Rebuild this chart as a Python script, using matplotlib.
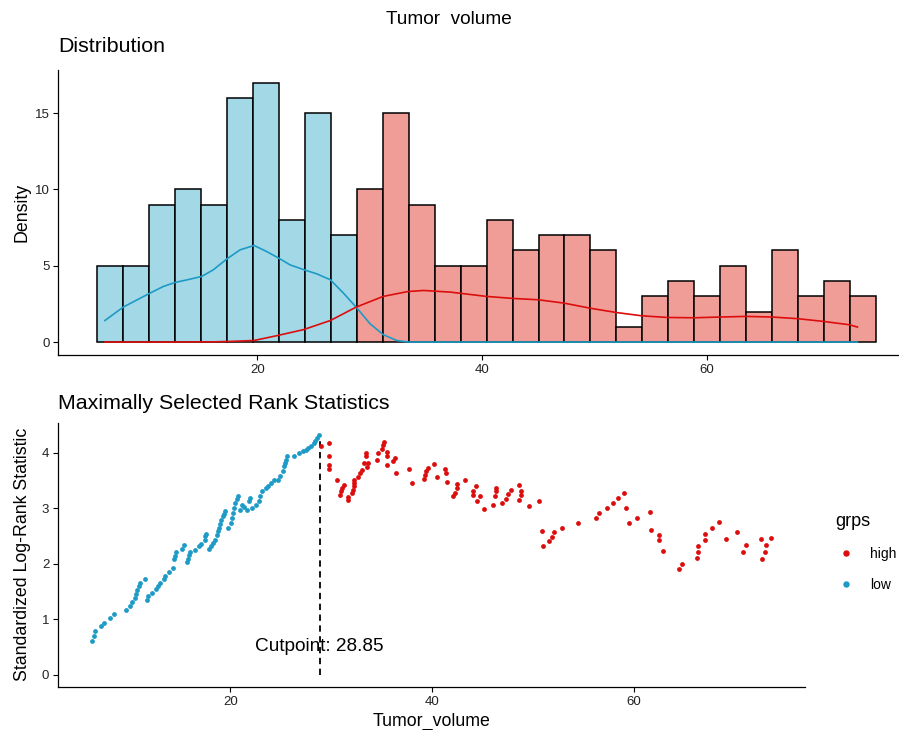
import numpy as np
import matplotlib
matplotlib.use("Agg")
import matplotlib.pyplot as plt
from matplotlib.lines import Line2D

plt.rcParams["font.family"] = ["Liberation Sans", "DejaVu Sans"]

# histogram (counts per bin), bins split at the cutpoint
bin_lo = 5.77
bin_w = 2.309
low_counts = [5, 5, 9, 10, 9, 16, 17, 8, 15, 7]
high_counts = [10, 15, 9, 5, 5, 8, 6, 7, 7, 6, 1, 3, 4, 3, 5, 2, 6, 3, 4, 3]

# density curves
low_dens_x = [6.44, 8.07, 10.33, 11.63, 12.67, 14.01, 15.05, 16.08, 17.28, 18.46, 19.71,
              20.84, 21.90, 22.91, 24.18, 25.29, 26.50, 27.66, 28.79, 30.03, 31.21,
              32.41, 33.44, 73.4]
low_dens_y = [1.41, 2.29, 3.16, 3.64, 3.90, 4.12, 4.30, 4.73, 5.44, 6.04, 6.33,
              5.93, 5.50, 5.06, 4.73, 4.47, 4.08, 3.21, 2.29, 1.20, 0.48,
              0.10, 0.0, 0.0]
high_dens_x = [6.44, 12.0, 16.0, 17.6, 19.7, 21.7, 24.1, 26.5, 28.8, 31.2, 33.4, 34.8,
               37.2, 40.4, 42.7, 45.0, 47.3, 49.6, 51.9, 54.2, 56.5, 58.9, 61.2, 63.5,
               65.8, 68.1, 70.4, 72.7, 73.4]
high_dens_y = [0.0, 0.0, 0.01, 0.04, 0.10, 0.41, 0.81, 1.41, 2.29, 2.99, 3.31, 3.38,
               3.27, 2.99, 2.86, 2.77, 2.55, 2.22, 1.94, 1.72, 1.61, 1.59, 1.64, 1.68,
               1.64, 1.53, 1.35, 1.13, 0.98]

# standardized log-rank statistic
low_x = [6.34, 6.50, 6.60, 7.20, 7.52, 8.05, 8.51, 9.70, 10.03, 10.27, 10.52, 10.66,
         10.79, 10.92, 11.02, 11.51, 11.71, 11.85, 12.21, 12.67, 12.80, 13.07, 13.40,
         13.56, 13.89, 14.33, 14.46, 14.55, 14.62, 15.22, 15.38, 15.71, 15.77, 15.91,
         16.04, 16.50, 16.90, 17.10, 17.50, 17.55, 17.62, 17.85, 18.09, 18.29, 18.51,
         18.68, 18.78, 18.91, 18.98, 19.11, 19.24, 19.41, 19.53, 19.77, 20.07, 20.17,
         20.27, 20.40, 20.52, 20.66, 20.72, 20.99, 21.16, 21.32, 21.65, 21.81, 21.91,
         22.15, 22.57, 22.80, 22.97, 23.17, 23.56, 23.79, 24.03, 24.29, 24.78, 24.95,
         25.22, 25.28, 25.45, 25.54, 25.67, 26.34, 26.86, 27.20, 27.46, 27.75, 27.99,
         28.25, 28.42, 28.58, 28.84]
low_y = [0.60, 0.69, 0.78, 0.87, 0.94, 1.02, 1.09, 1.17, 1.24, 1.31, 1.38, 1.45,
         1.52, 1.59, 1.65, 1.72, 1.35, 1.42, 1.48, 1.54, 1.60, 1.66, 1.73,
         1.78, 1.85, 1.92, 2.08, 2.13, 2.21, 2.27, 2.33, 2.03, 2.09, 2.16,
         2.21, 2.25, 2.31, 2.36, 2.42, 2.49, 2.54, 2.27, 2.31, 2.37, 2.43,
         2.52, 2.58, 2.64, 2.72, 2.79, 2.85, 2.90, 2.94, 2.64, 2.73, 2.82,
         2.91, 3.00, 3.09, 3.16, 3.22, 2.97, 3.06, 3.02, 2.97, 3.12, 3.18,
         3.00, 3.06, 3.12, 3.21, 3.30, 3.36, 3.39, 3.45, 3.50, 3.51, 3.57,
         3.66, 3.75, 3.81, 3.87, 3.94, 3.93, 4.00, 4.02, 4.05, 4.08, 4.11,
         4.17, 4.21, 4.26, 4.32]
high_x = [28.98, 29.80, 29.83, 29.83, 29.83, 30.62, 30.89, 30.96, 31.06, 31.22, 31.65,
          31.71, 32.05, 32.15, 32.21, 32.25, 32.28, 32.70, 32.87, 33.04, 33.20, 33.40,
          33.40, 33.53, 33.69, 34.52, 34.68, 35.02, 35.18, 35.25, 35.51, 35.57, 35.51,
          36.11, 36.34, 36.44, 37.75, 38.05, 39.21, 39.31, 39.41, 39.63, 40.23, 40.52,
          41.32, 41.36, 41.51, 42.11, 42.28, 42.45, 42.50, 43.27, 44.03, 44.09, 44.36,
          44.49, 44.75, 45.15, 46.07, 46.24, 46.31, 46.34, 46.90, 47.33, 47.55, 47.79,
          48.61, 48.81, 48.78, 48.61, 49.63, 50.56, 50.86, 50.96, 51.61, 51.88, 52.03,
          52.84, 54.46, 56.24, 56.49, 57.36, 57.95, 58.45, 59.01, 59.21, 59.48, 60.25,
          61.58, 61.71, 62.50, 62.48, 62.90, 64.46, 64.78, 66.24, 66.31, 66.31, 67.03,
          67.05, 67.69, 68.44, 69.14, 70.18, 70.82, 71.09, 72.60, 73.07, 72.94, 72.70,
          73.58]
high_y = [4.12, 4.18, 3.94, 3.78, 3.71, 3.51, 3.24, 3.30, 3.36, 3.42, 3.20,
          3.15, 3.27, 3.33, 3.40, 3.46, 3.51, 3.56, 3.63, 3.69, 3.81, 3.94,
          4.00, 3.74, 3.81, 3.87, 3.99, 4.06, 4.13, 4.19, 4.01, 3.94, 3.78,
          3.84, 3.90, 3.64, 3.70, 3.46, 3.52, 3.60, 3.66, 3.73, 3.80, 3.56,
          3.70, 3.63, 3.47, 3.21, 3.28, 3.36, 3.44, 3.51, 3.24, 3.31, 3.39,
          3.13, 3.22, 2.98, 3.06, 3.21, 3.30, 3.37, 3.09, 3.17, 3.26, 3.33,
          3.41, 3.31, 3.23, 3.15, 3.03, 3.12, 2.58, 2.32, 2.40, 2.48, 2.57,
          2.65, 2.73, 2.82, 2.91, 3.00, 3.09, 3.18, 3.28, 3.01, 2.74, 2.83,
          2.93, 2.60, 2.52, 2.43, 2.22, 1.91, 2.00, 2.11, 2.21, 2.31, 2.42,
          2.53, 2.64, 2.75, 2.45, 2.57, 2.21, 2.33, 2.45, 2.34, 2.21, 2.09,
          2.47]
cutpoint = 28.85

blue = "#1d9bc6"
red = "#dc0d0d"
blue_fill = "#a3d8e6"
red_fill = "#f09d98"
tick_col = "#222222"

fig = plt.figure(figsize=(8.99, 7.30), dpi=100)

# ---- Distribution ----
ax1 = fig.add_axes([58.5 / 899, 1 - 355 / 730, (899 - 58.5) / 899, (355 - 69.7) / 730])
edges = bin_lo + bin_w * np.arange(len(low_counts) + len(high_counts) + 1)
n_low = len(low_counts)
ax1.bar(edges[:n_low], low_counts, width=bin_w, align="edge",
        color=blue_fill, edgecolor="black", linewidth=1.1, zorder=2)
ax1.bar(edges[n_low:-1], high_counts, width=bin_w, align="edge",
        color=red_fill, edgecolor="black", linewidth=1.1, zorder=2)
ax1.plot(low_dens_x, low_dens_y, color=blue, lw=1.2, zorder=3)
ax1.plot(high_dens_x, high_dens_y, color=red, lw=1.2, zorder=3)
ax1.set_xlim(2.31, 77.1)
ax1.set_ylim(-0.85, 17.85)
ax1.set_xticks([20, 40, 60])
ax1.set_yticks([0, 5, 10, 15])
ax1.set_ylabel("Density", fontsize=12.8, labelpad=3)

# ---- Maximally selected rank statistics ----
ax2 = fig.add_axes([58.3 / 899, 1 - 686.7 / 730, (805.4 - 58.3) / 899, (686.7 - 422.8) / 730])
ax2.scatter(high_x, high_y, s=12, color=red, linewidths=0, zorder=3)
ax2.scatter(low_x, low_y, s=12, color=blue, linewidths=0, zorder=3)
ax2.plot([cutpoint, cutpoint], [0, max(low_y)], color="black", lw=1.3,
         ls=(0, (3.5, 2.5)), zorder=2)
ax2.text(cutpoint, 0.5, f"Cutpoint: {cutpoint}", ha="center", va="center", fontsize=13.7)
ax2.set_xlim(2.97, 76.97)
ax2.set_ylim(-0.216, 4.536)
ax2.set_xticks([20, 40, 60])
ax2.set_yticks([0, 1, 2, 3, 4])
ax2.set_xlabel("Tumor_volume", fontsize=12.8, labelpad=4)
ax2.set_ylabel("Standardized Log-Rank Statistic", fontsize=12.8, labelpad=8)

for ax in (ax1, ax2):
    for s in ("top", "right"):
        ax.spines[s].set_visible(False)
    for s in ("left", "bottom"):
        ax.spines[s].set_linewidth(0.9)
    ax.tick_params(length=3.5, width=0.8, labelsize=9.5, labelcolor=tick_col, pad=3)

handles = [Line2D([], [], ls="", marker="o", markersize=3.6, color=red),
           Line2D([], [], ls="", marker="o", markersize=3.6, color=blue)]
leg = ax2.legend(handles, ["high", "low"], title="grps", loc="upper left",
                 bbox_to_anchor=(823 / 899, 1 - 501 / 730), bbox_transform=fig.transFigure,
                 frameon=False, fontsize=10, title_fontsize=13, alignment="left",
                 labelspacing=1.2, handletextpad=1.0, handlelength=1.5)

fig.text(449 / 899, 1 - 19 / 730, "Tumor  volume", ha="center", va="center", fontsize=13.7)
fig.text(58 / 899, 1 - 47 / 730, "Distribution", ha="left", va="center", fontsize=15.4)
fig.text(58 / 899, 1 - 404 / 730, "Maximally Selected Rank Statistics", ha="left",
         va="center", fontsize=15.4)

fig.savefig("out.png", dpi=100)
